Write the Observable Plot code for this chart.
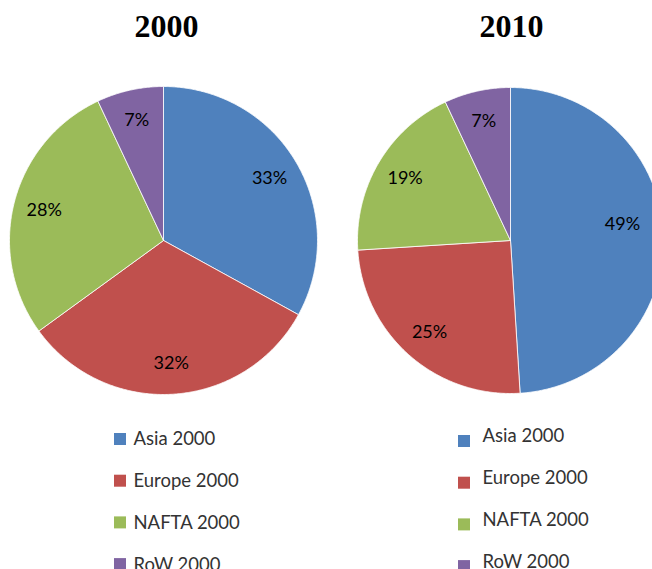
<!DOCTYPE html>
<html><head><meta charset="utf-8">
<script src="https://cdn.jsdelivr.net/npm/d3@7"></script>
<script src="https://cdn.jsdelivr.net/npm/@observablehq/plot@0.6"></script>
<style>html,body{margin:0;padding:0;background:#fff;overflow:hidden;width:652px;height:569px;}#chart svg{overflow:hidden;}</style>
</head><body><div id="chart"></div>
<script>
// ---- data ----
const years = ["2000", "2010"];
const legendLabels = ["Asia 2000", "Europe 2000", "NAFTA 2000", "RoW 2000"];
const values2000 = [33, 32, 28, 7];
const values2010 = [49, 25, 19, 7];
const palette = ["#4F81BD", "#C0504D", "#9BBB59", "#8064A2"];

// ---- layout ----
const W = 652, H = 569;
const pies = [
  {year: years[0], values: values2000, cx: 163, cy: 240, r: 154, titleX: 166,
   legend: {sqX: 120, sqY0: 439, textX: 133, textDy: 0, step: 41.7}},
  {year: years[1], values: values2010, cx: 510, cy: 240, r: 153, titleX: 511,
   legend: {sqX: 464, sqY0: 441, textX: 482, textDy: -5, step: 41.7}}
];

const marks = [];
const labels = [];
const titles = [];
const legendRects = [];
const legendTexts = [];

for (const p of pies) {
  const arcs = d3.pie().sort(null).startAngle(0).endAngle(2 * Math.PI)(p.values);
  arcs.forEach((a, i) => {
    const pts = [{x: p.cx, y: p.cy}];
    const n = Math.max(2, Math.ceil((a.endAngle - a.startAngle) / (Math.PI / 360)));
    for (let k = 0; k <= n; k++) {
      const t = a.startAngle + (a.endAngle - a.startAngle) * k / n;
      pts.push({x: p.cx + p.r * Math.sin(t), y: p.cy - p.r * Math.cos(t)});
    }
    pts.push({x: p.cx, y: p.cy});
    marks.push(Plot.line(pts, {x: "x", y: "y", fill: palette[i], stroke: "white", strokeWidth: 0.8, strokeLinejoin: "round"}));
    const mid = (a.startAngle + a.endAngle) / 2;
    const lr = p.r * 0.8;
    let lx = p.cx + lr * Math.sin(mid);
    let ly = p.cy - lr * Math.cos(mid);
    // keep label inside the visible page
    if (lx > W - 30) { ly -= (lx - (W - 30)) * 1.2; lx = W - 30; }
    labels.push({x: lx, y: ly, text: a.data + "%"});
  });
  titles.push({x: p.titleX, y: 26, text: p.year});
  legendLabels.forEach((lab, i) => {
    const yc = p.legend.sqY0 + i * p.legend.step;
    legendRects.push({x1: p.legend.sqX - 6, x2: p.legend.sqX + 6, y1: yc - 6, y2: yc + 6, color: palette[i]});
    legendTexts.push({x: p.legend.textX, y: yc + p.legend.textDy, text: lab});
  });
}

const chart = Plot.plot({
  width: W, height: H,
  margin: 0,
  x: {domain: [0, W], range: [0, W], axis: null},
  y: {domain: [0, H], range: [0, H], axis: null},
  style: {background: "white", overflow: "hidden"},
  marks: [
    ...marks,
    Plot.text(labels, {x: "x", y: "y", text: "text", fontSize: 18, fill: "black",
      fontFamily: "Lato, 'Open Sans', sans-serif", textAnchor: "middle", lineAnchor: "middle"}),
    Plot.text(titles, {x: "x", y: "y", text: "text", fontSize: 32, fontWeight: "bold", fill: "black",
      fontFamily: "'Liberation Serif', 'Times New Roman', serif", textAnchor: "middle", lineAnchor: "middle"}),
    Plot.rect(legendRects, {x1: "x1", x2: "x2", y1: "y1", y2: "y2", fill: d => d.color}),
    Plot.text(legendTexts, {x: "x", y: "y", text: "text", fontSize: 18.5, fill: "#333",
      fontFamily: "Lato, 'Open Sans', sans-serif", textAnchor: "start", lineAnchor: "middle"})
  ]
});
document.getElementById("chart").appendChild(chart);
</script>
</body></html>
